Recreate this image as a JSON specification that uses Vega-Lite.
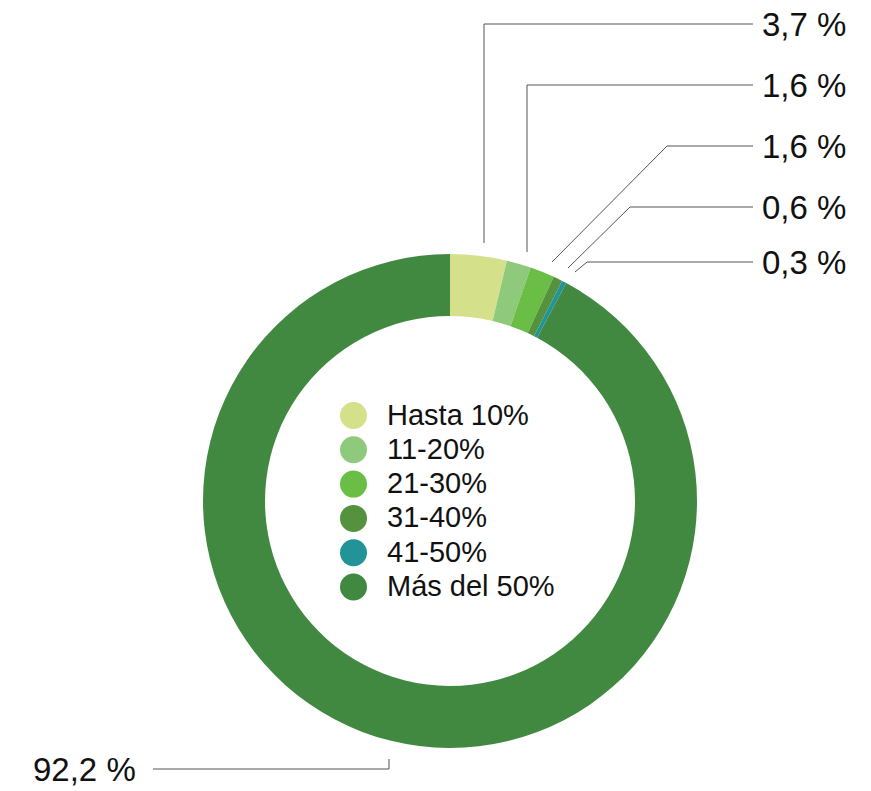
{
  "$schema": "https://vega.github.io/schema/vega-lite/v6.json",
  "autosize": {"type": "fit", "contains": "padding"},
  "width": 871,
  "height": 791,
  "padding": 0,
  "background": "white",
  "config": {"view": {"stroke": null}, "font": "Liberation Sans"},
  "datasets": {
    "slices": [
      {"cat": "Hasta 10%", "pct": 3.7, "idx": 1},
      {"cat": "11-20%", "pct": 1.6, "idx": 2},
      {"cat": "21-30%", "pct": 1.6, "idx": 3},
      {"cat": "31-40%", "pct": 0.6, "idx": 4},
      {"cat": "41-50%", "pct": 0.3, "idx": 5},
      {"cat": "Más del 50%", "pct": 92.2, "idx": 6}
    ],
    "leaders": [
      {"id": 1, "pt": 1, "px": 34, "py": -258},
      {"id": 1, "pt": 2, "px": 34, "py": -477},
      {"id": 1, "pt": 3, "px": 303, "py": -477},
      {"id": 2, "pt": 1, "px": 77, "py": -249},
      {"id": 2, "pt": 2, "px": 77, "py": -416},
      {"id": 2, "pt": 3, "px": 303, "py": -416},
      {"id": 3, "pt": 1, "px": 102, "py": -239},
      {"id": 3, "pt": 2, "px": 217, "py": -355},
      {"id": 3, "pt": 3, "px": 303, "py": -355},
      {"id": 4, "pt": 1, "px": 118, "py": -233},
      {"id": 4, "pt": 2, "px": 180, "py": -294},
      {"id": 4, "pt": 3, "px": 303, "py": -294},
      {"id": 5, "pt": 1, "px": 125, "py": -229},
      {"id": 5, "pt": 2, "px": 137, "py": -239},
      {"id": 5, "pt": 3, "px": 303, "py": -239},
      {"id": 6, "pt": 1, "px": -61, "py": 258},
      {"id": 6, "pt": 2, "px": -61, "py": 268},
      {"id": 6, "pt": 3, "px": -297, "py": 268}
    ],
    "labels": [
      {"lbl": "3,7 %", "tx": 312, "ty": -475},
      {"lbl": "1,6 %", "tx": 312, "ty": -414},
      {"lbl": "1,6 %", "tx": 312, "ty": -353},
      {"lbl": "0,6 %", "tx": 312, "ty": -292},
      {"lbl": "0,3 %", "tx": 312, "ty": -237},
      {"lbl": "92,2 %", "tx": -417, "ty": 270}
    ]
  },
  "layer": [
    {
      "data": {"name": "slices"},
      "mark": {"type": "arc", "outerRadius": 247, "innerRadius": 185},
      "encoding": {
        "x": {"datum": 0, "type": "quantitative", "scale": {"domain": [-450, 421], "nice": false, "zero": false}, "axis": null},
        "y": {"datum": 0, "type": "quantitative", "scale": {"domain": [-501, 290], "nice": false, "zero": false, "reverse": true}, "axis": null},
        "theta": {"field": "pct", "type": "quantitative", "stack": true},
        "order": {"field": "idx", "type": "quantitative"},
        "color": {
          "field": "cat",
          "type": "nominal",
          "scale": {
            "domain": ["Hasta 10%", "11-20%", "21-30%", "31-40%", "41-50%", "Más del 50%"],
            "range": ["#d4e18a", "#8fca7c", "#6abd45", "#55923e", "#229497", "#418940"]
          },
          "legend": {
            "orient": "none",
            "legendX": 339,
            "legendY": 401,
            "title": null,
            "padding": 0,
            "symbolType": "circle",
            "symbolSize": 729,
            "symbolStrokeWidth": 0,
            "symbolOpacity": 1,
            "labelFontSize": 29,
            "labelFont": "Liberation Sans",
            "labelColor": "#111111",
            "labelOffset": 19,
            "rowPadding": 4.3,
            "labelLimit": 400
          }
        }
      }
    },
    {
      "data": {"name": "leaders"},
      "mark": {"type": "line", "stroke": "#555555", "strokeWidth": 1},
      "encoding": {
        "x": {"field": "px", "type": "quantitative"},
        "y": {"field": "py", "type": "quantitative"},
        "detail": {"field": "id", "type": "nominal"},
        "order": {"field": "pt", "type": "quantitative"}
      }
    },
    {
      "data": {"name": "labels"},
      "mark": {"type": "text", "align": "left", "baseline": "middle", "fontSize": 33, "font": "Liberation Sans", "color": "#111111"},
      "encoding": {
        "x": {"field": "tx", "type": "quantitative"},
        "y": {"field": "ty", "type": "quantitative"},
        "text": {"field": "lbl", "type": "nominal"}
      }
    }
  ]
}
